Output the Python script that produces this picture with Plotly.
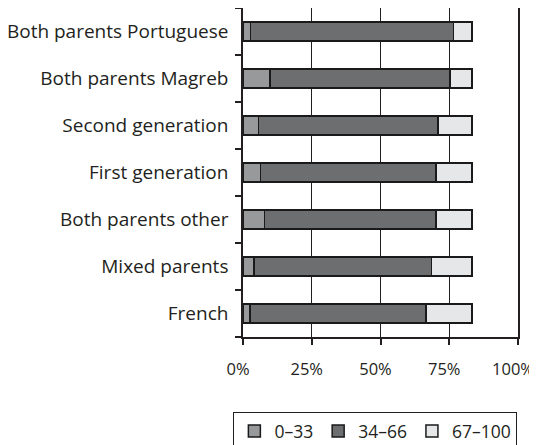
import plotly.graph_objects as go

categories = ["French", "Mixed parents", "Both parents other", "First generation",
              "Second generation", "Both parents Magreb", "Both parents Portuguese"]
low_0_33 = [2.5, 4.0, 7.8, 6.3, 5.6, 9.9, 2.8]
mid_34_66 = [64.0, 64.6, 62.4, 63.8, 65.3, 65.4, 73.7]
high_67_100 = [16.8, 14.7, 13.1, 13.2, 12.4, 8.0, 6.8]
series_names = ["0\u201333", "34\u201366", "67\u2013100"]
tick_vals = [0, 25, 50, 75, 100]
tick_text = ["0%", "25%", "50%", "75%", "100%"]

colors = ["#98999b", "#6d6e70", "#e6e7e8"]
font_family = "Open Sans, Noto Sans, sans-serif"

fig = go.Figure()
for name, vals, col in zip(series_names, [low_0_33, mid_34_66, high_67_100], colors):
    fig.add_trace(go.Bar(
        y=categories, x=vals, name=name, orientation="h",
        marker=dict(color=col, line=dict(color="#1a1a1a", width=1.5)),
    ))

fig.update_layout(
    width=529, height=437,
    barmode="stack", bargap=0.6,
    paper_bgcolor="white", plot_bgcolor="white",
    margin=dict(l=235, r=19, t=0, b=108, autoexpand=False),
    font=dict(family=font_family, size=18.5, color="#231f20"),
    showlegend=True,
    legend=dict(
        orientation="h", x=-0.035, xanchor="left", y=-0.228, yanchor="top",
        bordercolor="#231f20", borderwidth=1, traceorder="normal",
        font=dict(size=17.5), itemwidth=30,
    ),
    xaxis=dict(
        range=[0, 100], tickvals=tick_vals, ticktext=tick_text,
        tickfont=dict(size=16.5),
        showgrid=True, gridcolor="#231f20", gridwidth=1,
        showline=True, linecolor="#231f20", linewidth=1.5, mirror=True,
        ticks="outside", ticklen=6, tickcolor="#231f20", tickwidth=1.5,
        zeroline=False, automargin=False, ticklabeloverflow="allow",
        ticklabelstandoff=10, ticklabelshift=-5,
    ),
    yaxis=dict(
        categoryorder="array", categoryarray=categories,
        tickfont=dict(size=19),
        showline=True, linecolor="#231f20", linewidth=1.5, mirror=True,
        ticks="outside", tickson="boundaries", ticklen=6, tickcolor="#231f20", tickwidth=1.5,
        showgrid=False, automargin=False, ticklabelstandoff=9,
    ),
)

fig.write_html("out.html")
